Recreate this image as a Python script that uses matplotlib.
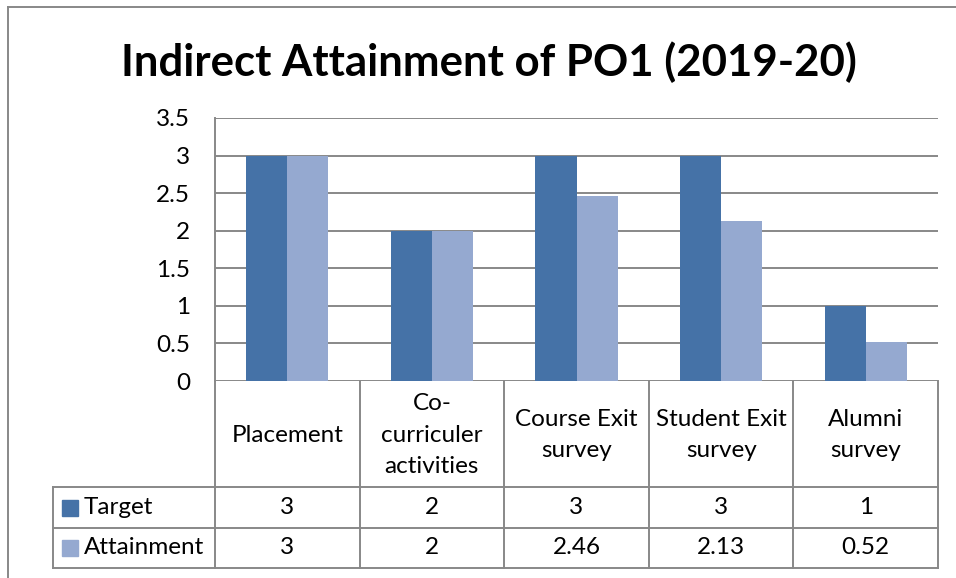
import numpy as np
import matplotlib.pyplot as plt
from matplotlib.patches import Rectangle

categories = ["Placement", "Co-\ncurriculer\nactivities", "Course Exit\nsurvey",
              "Student Exit\nsurvey", "Alumni\nsurvey"]
series_names = ["Target", "Attainment"]
target = [3, 2, 3, 3, 1]
attainment = [3, 2, 2.46, 2.13, 0.52]
colors = ["#4572A7", "#95A9D0"]

W, H = 956, 578
plt.rcParams['font.family'] = ['Lato', 'DejaVu Sans']
fig = plt.figure(figsize=(W / 100, H / 100), dpi=100)


def fx(x):
    return x / W


def fy(y):
    return 1 - y / H


grid_c = "#888888"
fs = 17.5

# plot area in pixels
left, right, top, bottom = 215, 938, 118, 381
ax = fig.add_axes([fx(left), fy(bottom), fx(right - left), (bottom - top) / H])

x = np.arange(len(categories))
bw = 0.284
ax.bar(x - bw / 2, target, bw, color=colors[0], zorder=3)
ax.bar(x + bw / 2, attainment, bw, color=colors[1], zorder=3)
ax.set_xlim(-0.5, len(categories) - 0.5)
ax.set_ylim(0, 3.5)
ax.set_yticks(np.arange(0, 3.51, 0.5))
ax.set_yticklabels([f"{v:g}" for v in np.arange(0, 3.51, 0.5)], fontsize=fs)
ax.set_xticks([])
ax.tick_params(axis='y', length=0, pad=18)
ax.yaxis.grid(True, color=grid_c, lw=1.4, zorder=0)
for s in ["top", "right", "bottom"]:
    ax.spines[s].set_visible(False)
ax.spines["left"].set_color(grid_c)
ax.spines["left"].set_linewidth(1.4)

# title
fig.text(fx(489), fy(62), "Indirect Attainment of PO1 (2019-20)", ha="center", va="center",
         fontsize=31.5, fontweight="bold")

# outer chart border
fig.add_artist(plt.Line2D([fx(8), fx(8)], [fy(7), fy(H)], color=grid_c, lw=1.4))
fig.add_artist(plt.Line2D([fx(8), fx(W)], [fy(7), fy(7)], color=grid_c, lw=1.4))

# data table
col_w = (right - left) / len(categories)
row_cat = (381, 487)
row_t = (487, 528)
row_a = (528, 568)
leg_left = 53


def hline(y, x0, x1):
    fig.add_artist(plt.Line2D([fx(x0), fx(x1)], [fy(y), fy(y)], color=grid_c, lw=1.4))


def vline(x0, y0, y1):
    fig.add_artist(plt.Line2D([fx(x0), fx(x0)], [fy(y0), fy(y1)], color=grid_c, lw=1.4))


for i in range(len(categories) + 1):
    vline(left + i * col_w, row_cat[0], row_a[1])
vline(leg_left, row_t[0], row_a[1])
hline(row_t[0], leg_left, right)
hline(row_a[0], leg_left, right)
hline(row_a[1], leg_left, right)

for i, cat in enumerate(categories):
    cx = left + (i + 0.5) * col_w
    fig.text(fx(cx), fy(sum(row_cat) / 2 + 1), cat, ha="center", va="center",
             fontsize=fs, linespacing=1.6)
    for vals, row in ((target, row_t), (attainment, row_a)):
        fig.text(fx(cx), fy(sum(row) / 2), f"{vals[i]:g}", ha="center", va="center", fontsize=fs)

for name, c, row in zip(series_names, colors, (row_t, row_a)):
    cy = sum(row) / 2
    fig.add_artist(Rectangle((fx(62), fy(cy + 8)), 16 / W, 16 / H, color=c,
                             transform=fig.transFigure))
    fig.text(fx(84), fy(cy), name, ha="left", va="center", fontsize=fs)

fig.savefig("out.png", dpi=100)
